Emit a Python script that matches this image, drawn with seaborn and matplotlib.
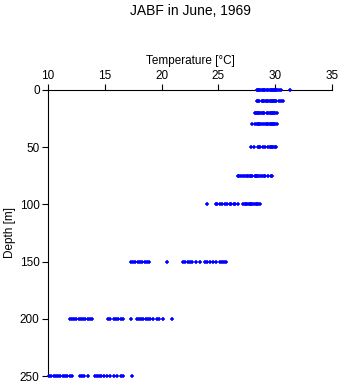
import matplotlib
matplotlib.use("Agg")
import matplotlib.pyplot as plt
import seaborn as sns
import pandas as pd

# Temperature readings [°C] at each standard depth [m]
t_0 = [28.4, 28.5, 28.6, 28.7, 28.8, 28.9, 29.0, 29.1, 29.3, 29.4, 29.5, 29.6,
       29.7, 29.8, 29.9, 30.0, 30.1, 30.2, 30.3, 30.5, 31.3]
t_10 = [28.4, 28.5, 28.6, 28.8, 28.9, 29.0, 29.2, 29.3, 29.4, 29.5, 29.6, 29.7,
        29.8, 29.9, 30.0, 30.1, 30.3, 30.5, 30.7]
t_20 = [28.2, 28.3, 28.4, 28.5, 28.6, 28.7, 28.8, 28.9, 29.0, 29.3, 29.4, 29.5,
        29.6, 29.7, 29.8, 29.9, 30.0, 30.2]
t_30 = [28.0, 28.2, 28.4, 28.5, 28.6, 28.7, 28.8, 29.0, 29.2, 29.3, 29.4, 29.5,
        29.6, 29.7, 29.8, 29.9, 30.0, 30.2]
t_50 = [27.9, 28.1, 28.5, 28.6, 28.7, 28.9, 29.1, 29.4, 29.5, 29.6, 29.7, 29.8,
        30.0, 30.1]
t_75 = [26.7, 26.8, 27.0, 27.2, 27.3, 27.5, 27.6, 27.8, 27.9, 28.0, 28.2, 28.3,
        28.4, 28.5, 28.7, 28.8, 29.0, 29.1, 29.4, 29.6, 29.7]
t_100 = [24.0, 24.8, 24.9, 25.1, 25.3, 25.6, 25.8, 26.0, 26.1, 26.4, 26.5, 26.7,
         27.2, 27.3, 27.4, 27.5, 27.7, 27.8, 27.9, 28.0, 28.1, 28.3, 28.4, 28.5,
         28.7]
t_150 = [17.3, 17.5, 17.7, 17.9, 18.1, 18.3, 18.5, 18.7, 18.9, 20.5, 21.9, 22.1,
         22.3, 22.5, 22.7, 23.0, 23.4, 23.8, 24.0, 24.3, 24.5, 24.8, 25.1, 25.3,
         25.5, 25.7]
t_200 = [11.9, 12.1, 12.3, 12.5, 12.7, 12.9, 13.1, 13.3, 13.5, 13.7, 13.9, 15.3,
         15.5, 15.8, 16.0, 16.2, 16.4, 16.6, 17.3, 17.8, 18.0, 18.2, 18.4, 18.6,
         18.8, 19.0, 19.2, 19.6, 19.8, 20.1, 20.9]
t_250 = [10.1, 10.3, 10.5, 10.7, 10.9, 11.1, 11.3, 11.5, 11.7, 11.9, 12.1, 12.8,
         13.0, 13.2, 13.5, 14.1, 14.3, 14.5, 14.7, 14.9, 15.2, 15.5, 15.8, 16.1,
         16.4, 16.6, 17.4]

depths = [0, 10, 20, 30, 50, 75, 100, 150, 200, 250]
temps = [t_0, t_10, t_20, t_30, t_50, t_75, t_100, t_150, t_200, t_250]

x_ticks = [10, 15, 20, 25, 30, 35]
y_ticks = [0, 50, 100, 150, 200, 250]

rows = [(t, d) for d, ts in zip(depths, temps) for t in ts]
df = pd.DataFrame(rows, columns=["temperature", "depth"])

sns.set_theme(style="white")
plt.rcParams["font.family"] = ["Liberation Sans", "DejaVu Sans"]
plt.rcParams["text.color"] = "black"
plt.rcParams["axes.labelcolor"] = "black"
plt.rcParams["xtick.color"] = "black"
plt.rcParams["ytick.color"] = "black"

fig = plt.figure(figsize=(3.41, 3.84), dpi=100)
ax = fig.add_axes([48 / 341, 8 / 384, 284 / 341, 286 / 384])

sns.scatterplot(data=df, x="temperature", y="depth", ax=ax, marker="+",
                color="#0000ff", s=9, linewidth=1.1, legend=False,
                zorder=5, clip_on=False)

ax.set_xlim(10, 35)
ax.set_ylim(250, 0)
ax.set_xticks(x_ticks)
ax.set_yticks(y_ticks)
ax.xaxis.tick_top()
ax.xaxis.set_label_position("top")
ax.set_xlabel("Temperature [°C]", fontsize=8.5, labelpad=4)
ax.set_ylabel("Depth [m]", fontsize=8.5, labelpad=3)

for side in ("right", "bottom"):
    ax.spines[side].set_visible(False)
for side in ("top", "left"):
    ax.spines[side].set_color("black")
    ax.spines[side].set_linewidth(0.8)
    ax.spines[side].set_zorder(2)

ax.tick_params(axis="both", which="major", direction="out", length=4,
               width=0.8, color="black", labelcolor="black", labelsize=8.5,
               pad=2, top=True, bottom=False, left=True, right=False)

fig.text(190 / 341, 1 - 11 / 384, "JABF in June, 1969", ha="center",
         va="center", fontsize=10)

fig.savefig("out.png", dpi=100)
